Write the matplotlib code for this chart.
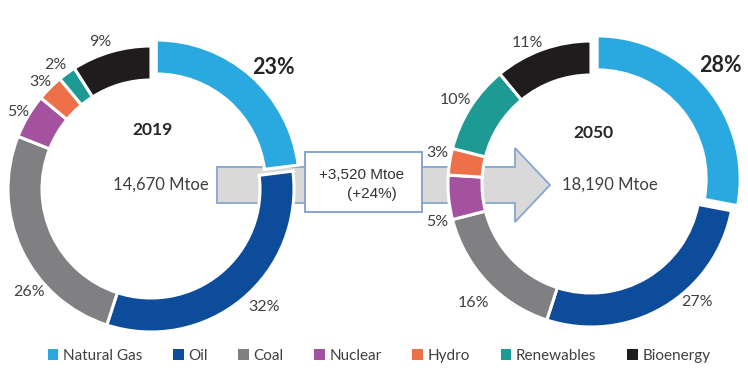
import matplotlib
matplotlib.use("Agg")
import matplotlib.pyplot as plt
from matplotlib.patches import FancyArrow, Rectangle, Patch

W, H = 748, 385
def Y(y):
    return H - y

categories = ["Natural Gas", "Oil", "Coal", "Nuclear", "Hydro", "Renewables", "Bioenergy"]
colors = ["#2AA9E0", "#0D4C9B", "#808082", "#A4519F", "#EE7049", "#1E9A95", "#1F1C1D"]
share_2019 = [23, 32, 26, 5, 3, 2, 9]
share_2050 = [28, 27, 16, 5, 3, 10, 11]
total_2019 = "14,670 Mtoe"
total_2050 = "18,190 Mtoe"
delta_text = "+3,520 Mtoe"
delta_pct = "(+24%)"

CAL = ["Lato", "DejaVu Sans"]
ARI = ["Liberation Sans", "DejaVu Sans"]

fig = plt.figure(figsize=(W / 100, H / 100), dpi=100)
ax = fig.add_axes([0, 0, 1, 1])

# arrow behind donuts
arrow = FancyArrow(217, Y(185), 550 - 217, 0, width=36, head_width=74, head_length=35,
                   length_includes_head=True, fc="#D9D9D9", ec="#86A5CF", lw=1.3, zorder=0.5)
ax.add_patch(arrow)

R, Wd = 143, 34
wp = dict(width=Wd, edgecolor="white", linewidth=2.2)
expl = [8, 0, 0, 0, 0, 0, 0]   # explode is in data units (pixels here)
wedges1, _ = ax.pie(share_2019, colors=colors, startangle=90, counterclock=False,
                    center=(151, Y(189)), radius=R, wedgeprops=wp, explode=expl)
wedges2, _ = ax.pie(share_2050, colors=colors, startangle=90, counterclock=False,
                    center=(591, Y(184)), radius=R, wedgeprops=wp, explode=expl)

ax.set_xlim(0, W)
ax.set_ylim(0, H)
ax.set_aspect("equal")
ax.axis("off")

# delta box
ax.add_patch(Rectangle((305, Y(212)), 117, 60, fc="white", ec="#86A5CF", lw=1.4, zorder=3))
ax.text(362, Y(175), delta_text, ha="center", va="center", fontsize=11, family=ARI, color="#333333", zorder=4)
ax.text(372, Y(194), delta_pct, ha="center", va="center", fontsize=11, family=ARI, color="#333333", zorder=4)

# center texts
ax.text(153, Y(130), "2019", ha="center", va="center", fontsize=12.5, fontweight="bold", family=CAL, color="#262626")
ax.text(161, Y(185), total_2019, ha="center", va="center", fontsize=12, family=CAL, color="#404040")
ax.text(593, Y(133), "2050", ha="center", va="center", fontsize=12.5, fontweight="bold", family=CAL, color="#262626")
ax.text(610, Y(185), total_2050, ha="center", va="center", fontsize=12, family=CAL, color="#404040")

# percentage labels
lab1 = [(273, 68, True), (264, 307, False), (29, 292, False), (18, 112, False),
        (40, 82, False), (55, 65, False), (100, 42, False)]
lab2 = [(720, 65, True), (697, 302, False), (473, 303, False), (437, 222, False),
        (437, 153, False), (455, 100, False), (527, 43, False)]
for vals, labs in ((share_2019, lab1), (share_2050, lab2)):
    for v, (x, y, big) in zip(vals, labs):
        ax.text(x, Y(y), f"{v}%", ha="center", va="center",
                fontsize=15.5 if big else 11.5, fontweight="bold" if big else "normal",
                family=CAL, color="#262626" if big else "#404040")

handles = [Patch(facecolor=c, edgecolor="none") for c in colors]
leg = ax.legend(handles, categories, ncol=7, loc="center", bbox_to_anchor=(379 / W, 1 - 356 / H),
                frameon=False, handlelength=0.7, handleheight=0.7, handletextpad=0.3,
                columnspacing=2.0, borderpad=0, prop={"family": CAL, "size": 11})
for t in leg.get_texts():
    t.set_color("#404040")

fig.savefig("out.png", dpi=100, facecolor="white")
